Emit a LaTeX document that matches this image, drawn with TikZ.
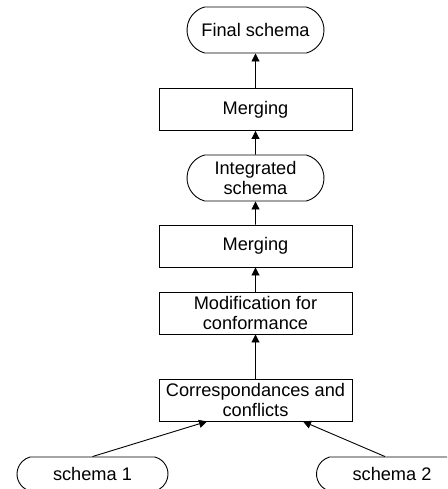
\documentclass[tikz,border=0pt]{standalone}
\usepackage{fontspec}
\setmainfont{Liberation Sans}
\usetikzlibrary{arrows.meta, shapes.misc}

\tikzset{
	stepbox/.style={draw, rectangle, minimum width=193pt, minimum height=42pt, align=center, inner sep=2pt},
	schemabox/.style={draw, rounded rectangle, rounded rectangle arc length=150, minimum width=141pt, minimum height=46pt, align=center, inner sep=2pt},
	flow/.style={-{Triangle[length=8pt, width=8pt]}}
}

\begin{document}
\begin{tikzpicture}[x=1pt, y=-1pt, line width=0.9pt, font=\fontsize{18.2}{20}\selectfont]
	\useasboundingbox (0,0) rectangle (447,489);
	\clip (0,0) rectangle (447,489);
	% schemas and steps
	\node[schemabox] (final) at (255.5,30) {Final schema};
	\node[stepbox] (merge1) at (255.5,109.5) {Merging};
	\node[schemabox] (integ) at (255.5,178) {Integrated\\schema};
	\node[stepbox] (merge2) at (255.5,246) {Merging};
	\node[stepbox] (modif) at (255.5,313) {Modification for\\conformance};
	\node[stepbox] (corr) at (255.5,400) {Correspondances and\\conflicts};
	\node[schemabox, minimum width=155pt, minimum height=34pt] (s1) at (92.5,474) {schema 1};
	\node[schemabox, minimum width=155pt, minimum height=34pt] (s2) at (392,474) {schema 2};
	% arrows
	\draw[flow] (merge1) -- (final);
	\draw[flow] (integ) -- (merge1);
	\draw[flow] (merge2) -- (integ);
	\draw[flow] (modif) -- (merge2);
	\draw[flow] (corr) -- (modif);
	\draw[flow] (s1.north) -- ([xshift=-48.5pt]corr.south);
	\draw[flow] ([xshift=-7pt]s2.north) -- ([xshift=47.5pt]corr.south);
\end{tikzpicture}
\end{document}
